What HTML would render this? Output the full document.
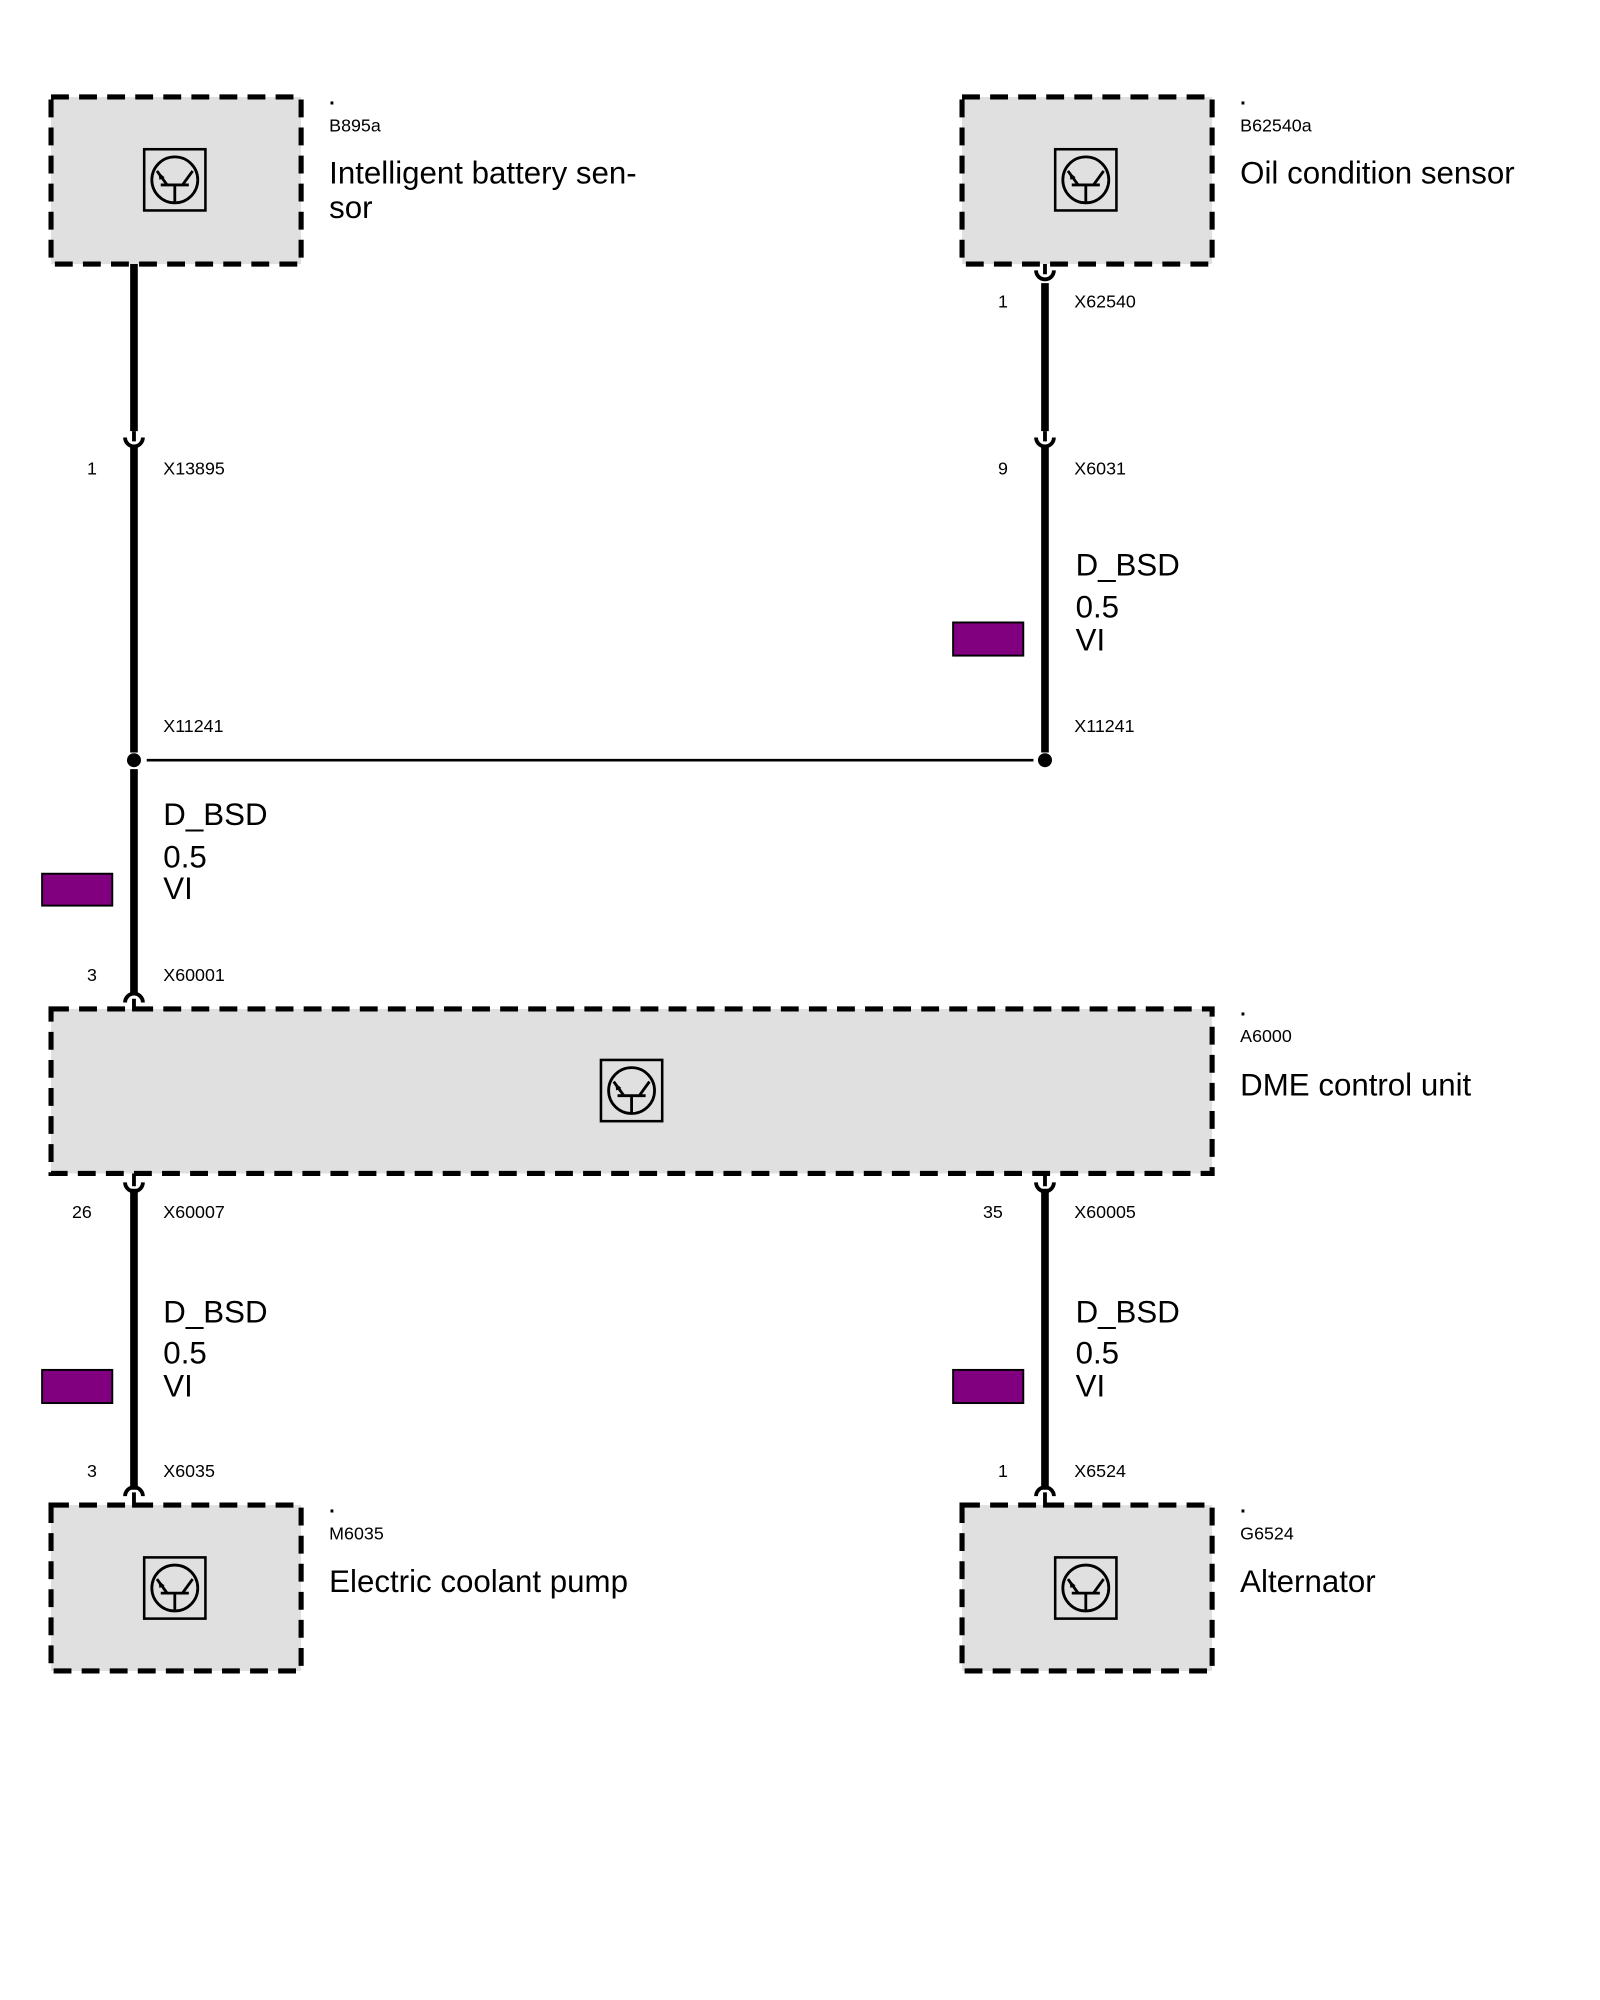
<!DOCTYPE html>
<html><head><meta charset="utf-8"><style>
html,body{margin:0;padding:0;background:#fff}
svg{display:block}
text{font-family:"Liberation Sans",Arial,sans-serif;fill:#000}
.s{font-size:14px}.b{font-size:24.5px}
.d{font-size:16px;font-weight:bold}
</style></head><body>
<svg width="1600" height="2000" viewBox="0 0 1254 1568" preserveAspectRatio="none" xmlns="http://www.w3.org/2000/svg">
<defs>
<g id="ic">
<rect x="-24" y="-24" width="48" height="48" fill="none" stroke="#000" stroke-width="2"/>
<circle cx="0" cy="0" r="18" fill="none" stroke="#000" stroke-width="2.2"/>
<path d="M-11 4 H11 M0 4 V18 M-6 4 L-14 -7 M6 4 L14 -7" stroke="#000" stroke-width="2.2" fill="none"/>
<path d="M-13 -6 L-8 -2 L-12 0 Z" fill="#000"/>
</g>
</defs>
<g fill="#e0e0e0" stroke="#000" stroke-width="4" stroke-dasharray="14,8">
<rect x="40" y="76" width="196" height="131"/>
<rect x="754" y="76" width="196" height="131"/>
<rect x="40" y="791" width="910" height="129"/>
<rect x="40" y="1180" width="196" height="130"/>
<rect x="754" y="1180" width="196" height="130"/>
</g>
<use href="#ic" x="137" y="141"/><use href="#ic" x="851" y="141"/>
<use href="#ic" x="495" y="855"/><use href="#ic" x="137" y="1245"/><use href="#ic" x="851" y="1245"/>
<g stroke="#000" stroke-width="6" fill="none">
<line x1="105" y1="207" x2="105" y2="338"/>
<line x1="105" y1="350" x2="105" y2="590"/>
<line x1="105" y1="603" x2="105" y2="780"/>
<line x1="819" y1="222" x2="819" y2="338"/>
<line x1="819" y1="350" x2="819" y2="590"/>
<line x1="105" y1="932" x2="105" y2="1168"/>
<line x1="819" y1="932" x2="819" y2="1168"/>
</g>
<g stroke="#000" stroke-width="3" fill="none">
<path d="M98 343 A7 7 0 0 0 112 343 M105 338 V346"/>
<path d="M812 343 A7 7 0 0 0 826 343 M819 338 V346"/>
<path d="M812 212 A7 7 0 0 0 826 212 M819 207 V215"/>
<path d="M98 786 A7 7 0 0 1 112 786 M105 783 V793"/>
<path d="M98 927 A7 7 0 0 0 112 927 M105 920 V930"/>
<path d="M812 927 A7 7 0 0 0 826 927 M819 920 V930"/>
<path d="M98 1173 A7 7 0 0 1 112 1173 M105 1170 V1182"/>
<path d="M812 1173 A7 7 0 0 1 826 1173 M819 1170 V1182"/>
</g>
<line x1="115" y1="596" x2="810" y2="596" stroke="#000" stroke-width="2"/>
<circle cx="105" cy="596" r="5.5" fill="#000"/><circle cx="819" cy="596" r="5.5" fill="#000"/>
<g fill="#800080" stroke="#000" stroke-width="1.5">
<rect x="33" y="685" width="55" height="25"/><rect x="747" y="488" width="55" height="26"/>
<rect x="33" y="1074" width="55" height="26"/><rect x="747" y="1074" width="55" height="26"/>
</g>
<text class="d" x="258" y="82">.</text><text class="s" x="258" y="103">B895a</text>
<text class="b" x="258" y="144">Intelligent battery sen-</text><text class="b" x="258" y="171">sor</text>
<text class="d" x="972" y="82">.</text><text class="s" x="972" y="103">B62540a</text>
<text class="b" x="972" y="144">Oil condition sensor</text>
<text class="d" x="972" y="796">.</text><text class="s" x="972" y="817">A6000</text>
<text class="b" x="972" y="859">DME control unit</text>
<text class="d" x="258" y="1186">.</text><text class="s" x="258" y="1207">M6035</text>
<text class="b" x="258" y="1248">Electric coolant pump</text>
<text class="d" x="972" y="1186">.</text><text class="s" x="972" y="1207">G6524</text>
<text class="b" x="972" y="1248">Alternator</text>
<text class="s" x="790" y="241" text-anchor="end">1</text><text class="s" x="842" y="241">X62540</text>
<text class="s" x="76" y="372" text-anchor="end">1</text><text class="s" x="128" y="372">X13895</text>
<text class="s" x="790" y="372" text-anchor="end">9</text><text class="s" x="842" y="372">X6031</text>
<text class="s" x="128" y="574">X11241</text><text class="s" x="842" y="574">X11241</text>
<text class="s" x="76" y="769" text-anchor="end">3</text><text class="s" x="128" y="769">X60001</text>
<text class="s" x="72" y="955" text-anchor="end">26</text><text class="s" x="128" y="955">X60007</text>
<text class="s" x="786" y="955" text-anchor="end">35</text><text class="s" x="842" y="955">X60005</text>
<text class="s" x="76" y="1158" text-anchor="end">3</text><text class="s" x="128" y="1158">X6035</text>
<text class="s" x="790" y="1158" text-anchor="end">1</text><text class="s" x="842" y="1158">X6524</text>
<text class="b" x="843" y="451">D_BSD</text><text class="b" x="843" y="484">0.5</text><text class="b" x="843" y="510">VI</text>
<text class="b" x="128" y="647">D_BSD</text><text class="b" x="128" y="680">0.5</text><text class="b" x="128" y="705">VI</text>
<text class="b" x="128" y="1037">D_BSD</text><text class="b" x="128" y="1069">0.5</text><text class="b" x="128" y="1095">VI</text>
<text class="b" x="843" y="1037">D_BSD</text><text class="b" x="843" y="1069">0.5</text><text class="b" x="843" y="1095">VI</text>
</svg>
</body></html>
